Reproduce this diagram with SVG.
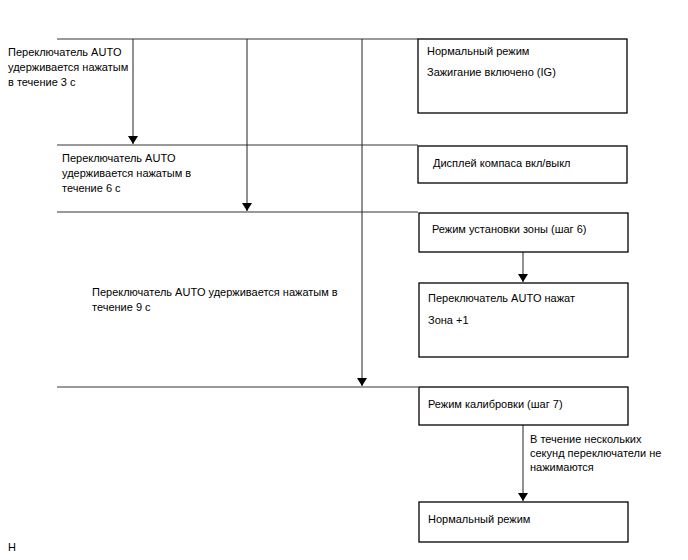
<svg xmlns="http://www.w3.org/2000/svg" width="688" height="560" viewBox="0 0 688 560">
<style>
text{font-family:"Liberation Sans",Arial,sans-serif;font-size:11px;fill:#000}
.box{fill:#fff;stroke:#000;stroke-width:1.3}
.h{stroke:#777;stroke-width:1.3;fill:none}
.v{stroke:#222;stroke-width:1;fill:none}
</style>
<defs>
<marker id="ah" viewBox="0 0 8 10" refX="8" refY="5" markerWidth="8" markerHeight="10" markerUnits="userSpaceOnUse" orient="auto">
<path d="M0,0 L8,5 L0,10 z" fill="#000"/>
</marker>
</defs>
<g id="connectors">
<line class="h" x1="57" y1="39" x2="418" y2="39"/>
<line class="h" x1="57" y1="145" x2="418" y2="145"/>
<line class="h" x1="57" y1="212" x2="418" y2="212"/>
<line class="h" x1="57" y1="387" x2="418" y2="387"/>
<line class="v" x1="133" y1="39" x2="133" y2="144" marker-end="url(#ah)"/>
<line class="v" x1="247" y1="39" x2="247" y2="211" marker-end="url(#ah)"/>
<line class="v" x1="362" y1="39" x2="362" y2="386" marker-end="url(#ah)"/>
<line class="v" x1="523" y1="252" x2="523" y2="282" marker-end="url(#ah)"/>
<line class="v" x1="523" y1="425" x2="523" y2="501" marker-end="url(#ah)"/>
</g>
<g id="label1">
<text x="8" y="56">Переключатель AUTO</text>
<text x="8" y="71">удерживается нажатым</text>
<text x="8" y="86">в течение 3 с</text>
</g>
<g id="label2">
<text x="62" y="162">Переключатель AUTO</text>
<text x="62" y="177">удерживается нажатым в</text>
<text x="62" y="192">течение 6 с</text>
</g>
<g id="label3">
<text x="92" y="296">Переключатель AUTO удерживается нажатым в</text>
<text x="92" y="311">течение 9 с</text>
</g>
<g id="box1">
<rect class="box" x="418" y="39" width="209" height="74"/>
<text x="427" y="55">Нормальный режим</text>
<text x="427" y="76">Зажигание включено (IG)</text>
</g>
<g id="box2">
<rect class="box" x="418" y="146" width="209" height="37"/>
<text x="433" y="167">Дисплей компаса вкл/выкл</text>
</g>
<g id="box3">
<rect class="box" x="419" y="213" width="209" height="39"/>
<text x="432" y="233">Режим установки зоны (шаг 6)</text>
</g>
<g id="box4">
<rect class="box" x="419" y="283" width="209" height="74"/>
<text x="428" y="302">Переключатель AUTO нажат</text>
<text x="428" y="324">Зона +1</text>
</g>
<g id="box5">
<rect class="box" x="419" y="387" width="209" height="38"/>
<text x="428" y="408">Режим калибровки (шаг 7)</text>
</g>
<g id="label4">
<text x="530" y="443">В течение нескольких</text>
<text x="530" y="457">секунд переключатели не</text>
<text x="530" y="471">нажимаются</text>
</g>
<g id="box6">
<rect class="box" x="419" y="502" width="209" height="40"/>
<text x="428" y="523">Нормальный режим</text>
</g>
<text x="8" y="551">H</text>
</svg>
